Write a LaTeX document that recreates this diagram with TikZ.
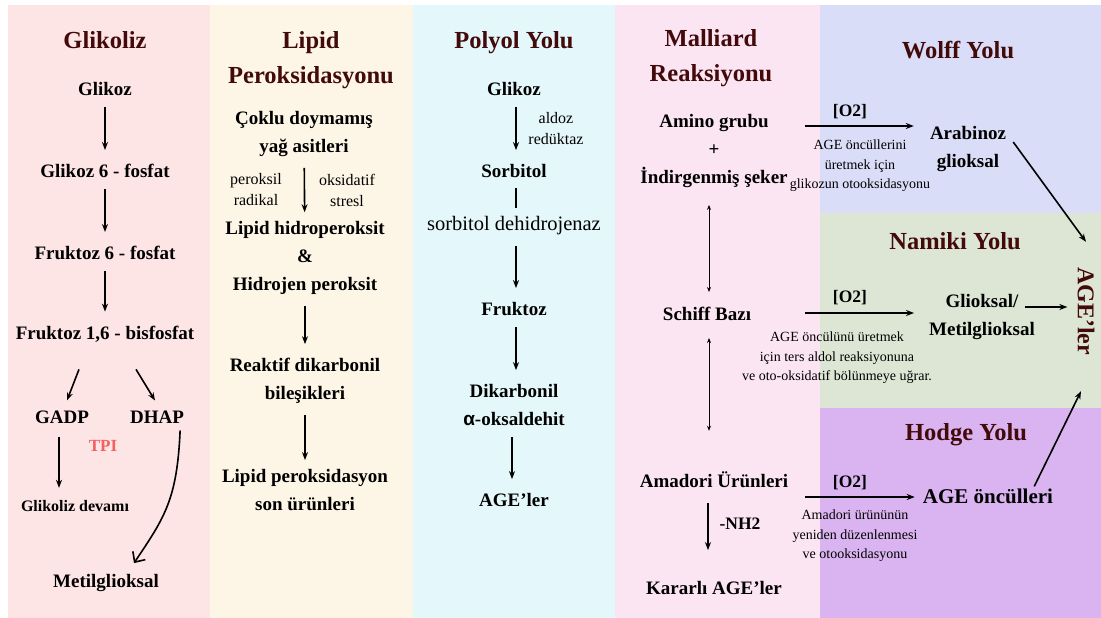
\documentclass[tikz,border=0pt]{standalone}
\usepackage{fontspec}
\setmainfont{Liberation Serif}
\newfontfamily\alphafont{Liberation Sans}
\usetikzlibrary{arrows.meta}

\definecolor{glikolizbg}{RGB}{253,228,229}
\definecolor{lipidbg}{RGB}{253,246,230}
\definecolor{polyolbg}{RGB}{228,247,250}
\definecolor{malliardbg}{RGB}{252,229,242}
\definecolor{wolffbg}{RGB}{217,221,247}
\definecolor{namikibg}{RGB}{221,230,213}
\definecolor{hodgebg}{RGB}{218,180,240}
\definecolor{titlered}{RGB}{66,10,10}
\definecolor{tpired}{RGB}{245,95,95}

\begin{document}
\begin{tikzpicture}[x=1pt,y=-1pt,>={Stealth[length=8pt,width=6pt]},
        heading/.style={font=\fontsize{24.5}{35}\selectfont\bfseries,text=titlered,align=center,inner sep=1pt},
        compound/.style={font=\fontsize{19}{28}\selectfont\bfseries,align=center,inner sep=1pt},
        enzyme/.style={font=\fontsize{16}{21}\selectfont,align=center,inner sep=1pt},
        remark/.style={font=\fontsize{14}{19.5}\selectfont,align=center,inner sep=1pt},
        flow/.style={->,line width=1.6pt,shorten <=10pt,shorten >=13pt},
        equil/.style={<->,line width=0.9pt,>={Stealth[length=5pt,width=4pt]}}]

            % Fixes the size of the whole figure
            \useasboundingbox (0,0) rectangle (1101,618);

            % Draws the coloured panels of the pathways
            \fill[glikolizbg] (8,5) rectangle (210,618);
            \fill[lipidbg] (210,5) rectangle (413,618);
            \fill[polyolbg] (413,5) rectangle (615,618);
            \fill[malliardbg] (615,5) rectangle (820,618);
            \fill[wolffbg] (820,5) rectangle (1101,213);
            \fill[namikibg] (820,213) rectangle (1101,408);
            \fill[hodgebg] (820,408) rectangle (1101,618);

            % Glikoliz column
            \node[heading] (glikoliz) at (105,40) {Glikoliz};
            \node[compound] (glikoz) at (105,89) {Glikoz};
            \node[compound] (g6p) at (105,171) {Glikoz 6 - fosfat};
            \node[compound] (f6p) at (105,253) {Fruktoz 6 - fosfat};
            \node[compound] (f16bp) at (105,334) {Fruktoz 1,6 - bisfosfat};
            \node[compound] (gadp) at (62,417) {GADP};
            \node[compound] (dhap) at (157,417) {DHAP};
            \node[font=\fontsize{17}{20}\selectfont\bfseries,text=tpired] (tpi) at (103,446) {TPI};
            \node[font=\fontsize{16}{20}\selectfont\bfseries] (devam) at (75,506) {Glikoliz devamı};
            \node[compound] (metil) at (106,583) {Metilglioksal};

            \draw[flow] (glikoz) -- (g6p);
            \draw[flow] (g6p) -- (f6p);
            \draw[flow] (f6p) -- (f16bp);
            \draw[->,line width=1.6pt] ([xshift=-26pt,yshift=-26pt]f16bp.south) -- ([xshift=5pt,yshift=9pt]gadp.north);
            \draw[->,line width=1.6pt] ([xshift=31pt,yshift=-26pt]f16bp.south) -- ([xshift=-2pt,yshift=9pt]dhap.north);
            \draw[flow,shorten <=12pt,shorten >=9pt] ([xshift=-3pt]gadp.south) -- ([xshift=-16pt]devam.north);
            \draw[line width=1.6pt,-{Straight Barb[length=8pt,width=15pt]}] ([xshift=-5pt,yshift=-6pt]dhap.south east)
                .. controls +(-3,70) and +(30,-45) .. ([xshift=28pt,yshift=10pt]metil.north);

            % Lipid peroksidasyonu column
            \node[heading] (lipid) at (311,60) {Lipid\\Peroksidasyonu};
            \node[compound] (coklu) at (304,134) {Çoklu doymamış\\yağ asitleri};
            \node[enzyme] (peroksil) at (256,190) {peroksil\\radikal};
            \node[enzyme] (oksidatif) at (347,190) {oksidatif\\stresl};
            \node[compound] (hidro) at (305,258) {Lipid hidroperoksit\\\&\\Hidrojen peroksit};
            \node[compound] (reaktif) at (305,381) {Reaktif dikarbonil\\bileşikleri};
            \node[compound] (lpson) at (305,490) {Lipid peroksidasyon\\son ürünleri};

            \draw[flow,shorten >=8pt] (coklu) -- (hidro);
            \draw[flow] (hidro) -- (reaktif);
            \draw[flow,shorten >=8pt] (reaktif) -- (lpson);

            % Polyol yolu column
            \node[heading] (polyol) at (514,43) {Polyol Yolu};
            \node[compound] (glikozp) at (514,89) {Glikoz};
            \node[enzyme] (aldoz) at (556,129) {aldoz\\redüktaz};
            \node[compound] (sorbitol) at (514,171) {Sorbitol};
            \node[font=\fontsize{20.5}{24}\selectfont,inner sep=1pt] (sdh) at (514,226) {sorbitol dehidrojenaz};
            \node[compound] (fruktoz) at (514,309) {Fruktoz};
            \node[compound] (dikarbonil) at (514,405) {Dikarbonil\\{\alphafont α}-oksaldehit};
            \node[compound] (agep) at (514,500) {AGE’ler};

            \draw[flow] ([xshift=2pt]glikozp.south) -- ([xshift=2pt]sorbitol.north);
            \draw[line width=1.6pt,shorten <=9pt,shorten >=8pt] ([xshift=2pt]sorbitol.south) -- ([xshift=2pt]sdh.north);
            \draw[flow,shorten <=10pt] ([xshift=2pt]sdh.south) -- ([xshift=2pt]fruktoz.north);
            \draw[flow] ([xshift=2pt]fruktoz.south) -- ([xshift=2pt]dikarbonil.north);
            \draw[flow] ([xshift=-2pt]dikarbonil.south) -- ([xshift=-2pt]agep.north);

            % Malliard reaksiyonu column
            \node[heading] (malliard) at (711,58) {Malliard\\Reaksiyonu};
            \node[compound] (amino) at (714,151) {Amino grubu\\+\\İndirgenmiş şeker};
            \node[compound] (schiff) at (707,314) {Schiff Bazı};
            \node[compound] (amadori) at (714,480) {Amadori Ürünleri};
            \node[font=\fontsize{17.5}{20}\selectfont\bfseries] (nh2) at (740,524) {-NH2};
            \node[compound] (kararli) at (714,588) {Kararlı AGE’ler};

            \draw[equil,shorten <=16pt,shorten >=14pt] ([xshift=-5pt]amino.south) -- ([xshift=2pt]schiff.north);
            \draw[equil,shorten <=16pt,shorten >=40pt] ([xshift=2pt]schiff.south) -- ([xshift=-5pt]amadori.north);
            \draw[flow,shorten <=14pt,shorten >=30pt] ([xshift=-6pt]amadori.south) -- ([xshift=-6pt]kararli.north);

            % Wolff, Namiki and Hodge pathways
            \node[heading] (wolff) at (958,50) {Wolff Yolu};
            \node[heading] (namiki) at (955,241) {Namiki Yolu};
            \node[heading] (hodge) at (966,435) {Hodge Yolu};

            \node[compound] (arabinoz) at (968,149) {Arabinoz\\glioksal};
            \node[compound] (glioksal) at (982,317) {Glioksal/\\Metilglioksal};
            \node[font=\fontsize{21}{24}\selectfont\bfseries,inner sep=1pt] (oncul) at (988,496) {AGE öncülleri};
            \node[font=\fontsize{24}{28}\selectfont\bfseries,text=titlered,rotate=-90,inner sep=1pt] (ageler) at (1086,311) {AGE’ler};

            \coordinate (wolffin) at (805,126);
            \coordinate (namikiin) at (805,313);
            \coordinate (hodgein) at (805,497);

            \node[font=\fontsize{17.5}{20}\selectfont\bfseries] (o2w) at (850,112) {[O2]};
            \node[font=\fontsize{17.5}{20}\selectfont\bfseries] (o2n) at (850,298) {[O2]};
            \node[font=\fontsize{17.5}{20}\selectfont\bfseries] (o2h) at (850,483) {[O2]};

            \node[remark] (wolffnote) at (860,166) {AGE öncüllerini\\üretmek için\\glikozun otooksidasyonu};
            \node[remark] (namikinote) at (837,358) {AGE öncülünü üretmek\\için ters aldol reaksiyonuna\\ve oto-oksidatif bölünmeye uğrar.};
            \node[remark] (hodgenote) at (855,536) {Amadori ürününün\\yeniden düzenlenmesi\\ve otooksidasyonu};

            % Draws the oxidation arrows and the arrows towards AGE'ler
            \draw[->,line width=1.6pt,shorten >=15pt] (wolffin) -- (wolffin -| arabinoz.west);
            \draw[->,line width=1.6pt,shorten >=14pt] (namikiin) -- (namikiin -| glioksal.west);
            \draw[->,line width=1.6pt,shorten >=7pt] (hodgein) -- (hodgein -| oncul.west);

            \draw[->,line width=1.6pt] ([xshift=6pt,yshift=7pt]arabinoz.east) -- ([yshift=24pt]ageler.west);
            \draw[->,line width=1.6pt] ([xshift=-11pt,yshift=10pt]glioksal.east) -- ([xshift=-9pt,yshift=10pt]glioksal.east -| ageler.south);
            \draw[->,line width=1.6pt] ([xshift=-20pt,yshift=1pt]oncul.north east) -- ([xshift=-5pt,yshift=-35pt]ageler.east);

\end{tikzpicture}
\end{document}
